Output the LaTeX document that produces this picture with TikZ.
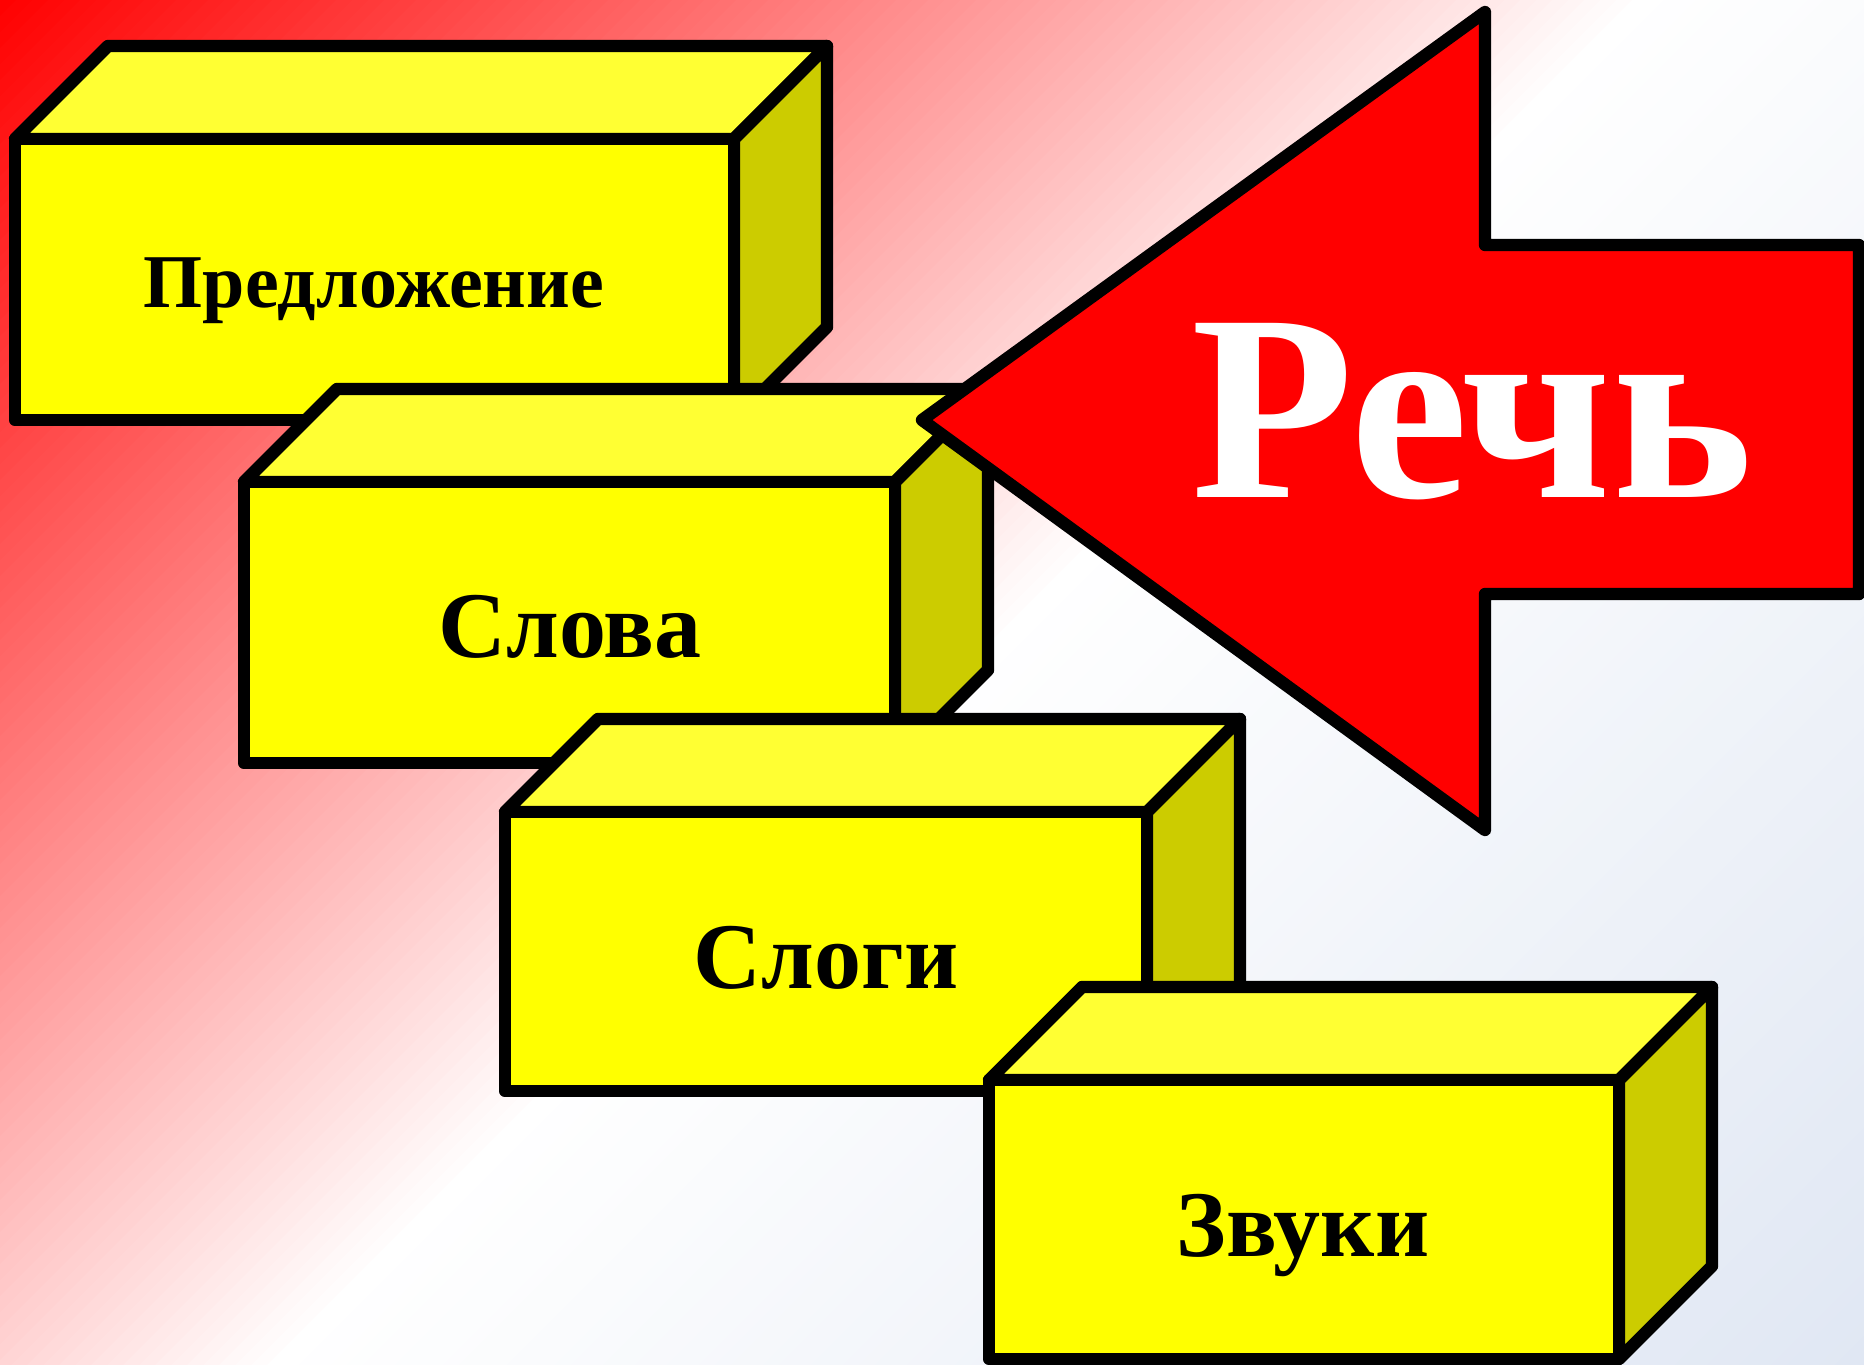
\documentclass[tikz,border=0pt]{standalone}
\usepackage{fontspec}
\setmainfont{Liberation Serif}
\definecolor{frontY}{HTML}{FFFF00}
\definecolor{topY}{HTML}{FFFF33}
\definecolor{sideY}{HTML}{CCCC00}
\definecolor{bgred}{HTML}{FF0000}
\definecolor{bgblue}{HTML}{E0E7F3}
\definecolor{arrowred}{HTML}{FF0000}
\tikzset{
  face/.style={draw=black, line width=6.2pt, line join=round},
  boxtext/.style={anchor=base, inner sep=0pt, font=\bfseries\fontsize{47}{50}\selectfont},
}
% #1 L, #2 T, #3 R, #4 B, #5 depth
\newcommand\drawcube[5]{%
  \filldraw[face, fill=topY] (#1,#2) -- (#1+#5,#2-#5) -- (#3+#5,#2-#5) -- (#3,#2) -- cycle;
  \filldraw[face, fill=sideY] (#3,#2) -- (#3+#5,#2-#5) -- (#3+#5,#4-#5) -- (#3,#4) -- cycle;
  \filldraw[face, fill=frontY] (#1,#2) rectangle (#3,#4);
}
\begin{document}
\begin{tikzpicture}[x=0.5pt, y=-0.5pt]
\useasboundingbox (0,0) rectangle (1864,1365);
% background gradient (diagonal: red -> white -> pale blue)
\begin{scope}
  \clip (0,0) rectangle (1864,1365);
  \foreach \i in {0,...,202} {
    \pgfmathsetmacro\ta{\i*16}
    \pgfmathsetmacro\tb{\ta+18}
    \pgfmathsetmacro\tm{\ta+8}
    \pgfmathparse{\tm<1640 ? 1 : 0}
    \ifnum\pgfmathresult=1
      \pgfmathsetmacro\p{max(0,min(100,100-\tm/16.4))}
      \fill[bgred!\p!white] (\ta+1500,-1500) -- (\tb+1500,-1500) -- (\tb-1500,1500) -- (\ta-1500,1500) -- cycle;
    \else
      \pgfmathsetmacro\p{max(0,min(100,(\tm-1640)/15.89))}
      \fill[bgblue!\p!white] (\ta+1500,-1500) -- (\tb+1500,-1500) -- (\tb-1500,1500) -- (\ta-1500,1500) -- cycle;
    \fi
  }
\end{scope}
% boxes
\drawcube{15}{139}{734}{420}{93}
\node[boxtext, font=\bfseries\fontsize{38}{40}\selectfont] (t1) at (374,307) {Предложение};
\drawcube{244}{482}{895}{763}{93}
\node[boxtext] (t2) at (570,657) {Слова};
\drawcube{505}{812}{1147}{1091}{93}
\node[boxtext] (t3) at (826,988) {Слоги};
\drawcube{989}{1080}{1619}{1359}{93}
\node[boxtext] (t4) at (1303,1256) {Звуки};
% arrow
\filldraw[face, fill=arrowred] (922,420) -- (1485,12) -- (1485,245) -- (1859,245)
  -- (1859,594) -- (1485,594) -- (1485,830) -- cycle;
\node[anchor=base, inner sep=0pt, text=white, font=\bfseries\fontsize{133}{140}\selectfont] (rech) at (1472,497) {Речь};
\end{tikzpicture}
\end{document}
